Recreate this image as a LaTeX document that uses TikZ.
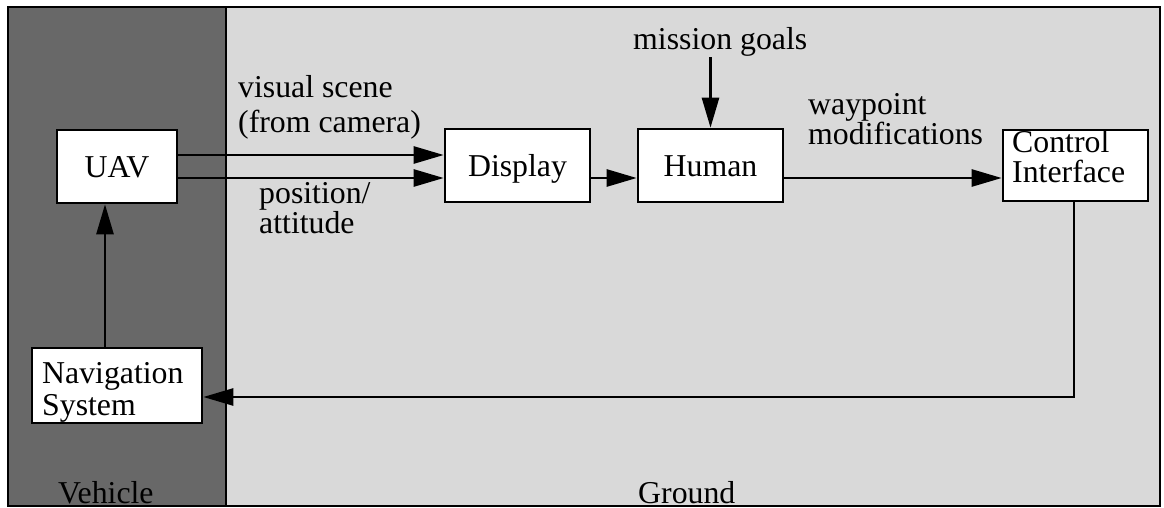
\documentclass[tikz,border=0pt]{standalone}
\usepackage{fontspec}
\setmainfont{Liberation Serif}
\usetikzlibrary{arrows.meta}
\definecolor{vehiclegray}{RGB}{104,104,104}
\definecolor{groundgray}{RGB}{217,217,217}
\begin{document}
\begin{tikzpicture}[x=1pt,y=-1pt,
  font=\fontsize{31.8}{34}\selectfont,
  blk/.style={draw=black, line width=2.6pt, fill=white, inner sep=0pt,
              text height=22pt, text depth=0pt},
  lbl/.style={inner sep=0pt, anchor=base west},
  arr/.style={line width=2.6pt, -{Triangle[length=30pt,width=17pt]}},
  ]
\useasboundingbox (0,0) rectangle (1164,508);

% vehicle and ground regions
\fill[vehiclegray] (8,7) rectangle (226,506);
\fill[groundgray] (226,7) rectangle (1160,506);
\node[lbl] (vehlbl) at (58,503) {Vehicle};
\node[lbl] (gndlbl) at (638,503) {Ground};
\draw[line width=1.5pt] (226,7) -- (226,506);
\draw[line width=2pt] (8,7) rectangle (1160,506);

% blocks
\node[blk, minimum width=120pt, minimum height=73pt] (uav) at (117,166.5) {UAV};
\node[blk, minimum width=145pt, minimum height=73pt] (disp) at (517.5,165.5) {Display};
\node[blk, minimum width=145pt, minimum height=73pt] (hum) at (710.5,165.5) {Human};
\node[blk, minimum width=145pt, minimum height=71pt] (ctl) at (1075.5,165.5) {};
\node[lbl] (ctlA) at (1012,152) {Control};
\node[lbl] (ctlB) at (1012,182) {Interface};
\node[blk, minimum width=170pt, minimum height=75pt] (nav) at (117,385.5) {};
\node[lbl] (navA) at (42,383) {Navigation};
\node[lbl] (navB) at (42,415) {System};

% signal labels
\node[lbl] (visA) at (238,98) {visual scene};
\node[lbl] (visB) at (238,132) {(from camera)};
\node[lbl] (posA) at (259,203) {position/};
\node[lbl] (posB) at (259,233) {attitude};
\node[lbl] (wayA) at (808,114) {waypoint};
\node[lbl] (wayB) at (808,145) {modifications};
\node[lbl] (goals) at (633,50) {mission goals};

% connectors
\draw[arr] ([yshift=11.5pt]uav.east) -- ([yshift=11.5pt]uav.east -| disp.west);
\draw[arr] ([yshift=-11.5pt]uav.east) -- ([yshift=-11.5pt]uav.east -| disp.west);
\draw[arr] ([yshift=-12.5pt]disp.east) -- ([yshift=-12.5pt]disp.east -| hum.west);
\draw[arr] ([yshift=-12.5pt]hum.east) -- ([yshift=-12.5pt]hum.east -| ctl.west);
\draw[arr] (hum.north |- goals.south) -- (hum.north);
\draw[arr] ([xshift=-1.5pt]ctl.south) |- ([yshift=-11.5pt]nav.east);
\draw[arr] ([xshift=-12pt]nav.north) -- ([xshift=-12pt]nav.north |- uav.south);
\end{tikzpicture}
\end{document}
